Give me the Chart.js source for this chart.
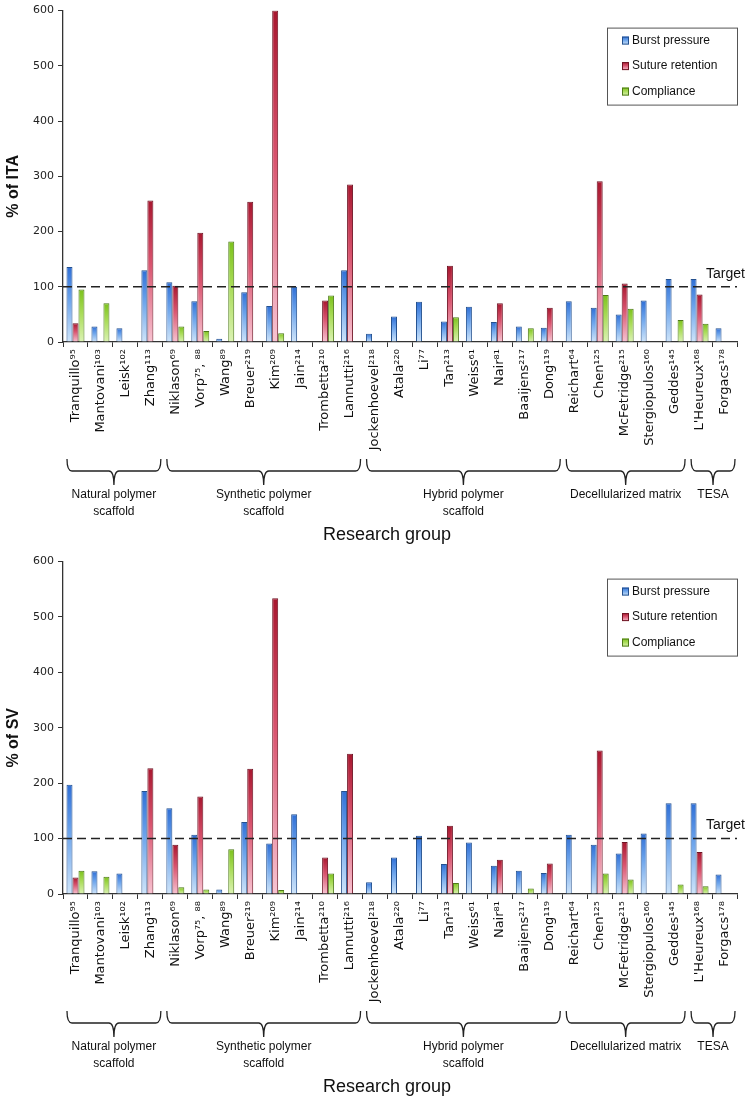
<!DOCTYPE html>
<html>
<head>
<meta charset="utf-8">
<script src="https://cdn.jsdelivr.net/npm/chart.js@4.4.1/dist/chart.umd.min.js"></script>
<style>
  body { margin: 0; background: #fff; }
  canvas { position: absolute; left: 0; }
</style>
</head>
<body>
<canvas id="ita" width="750" height="551" style="top:0"></canvas>
<canvas id="sv" width="750" height="546" style="top:551px"></canvas>
<script>
// grupos de pesquisa (com a referência em sobrescrito)
const grupos = ['Tranquillo⁹⁵', 'Mantovani¹⁰³', 'Leisk¹⁰²', 'Zhang¹¹³', 'Niklason⁶⁹', 'Vorp⁷⁵, ⁸⁸', 'Wang⁸⁹',
  'Breuer²¹⁹', 'Kim²⁰⁹', 'Jain²¹⁴', 'Trombetta²¹⁰', 'Lannutti²¹⁶', 'Jockenhoevel²¹⁸', 'Atala²²⁰', 'Li⁷⁷',
  'Tan²¹³', 'Weiss⁶¹', 'Nair⁸¹', 'Baaijens²¹⁷', 'Dong¹¹⁹', 'Reichart⁶⁴', 'Chen¹²⁵', 'McFetridge²¹⁵',
  'Stergiopulos¹⁶⁰', 'Geddes¹⁴⁵', "L'Heureux¹⁶⁸", 'Forgacs¹⁷⁸'];
const series = ['Burst pressure', 'Suture retention', 'Compliance'];
const categorias = [
  { nome: ['Natural polymer', 'scaffold'], de: 0, ate: 3 },
  { nome: ['Synthetic polymer', 'scaffold'], de: 4, ate: 11 },
  { nome: ['Hybrid polymer', 'scaffold'], de: 12, ate: 19 },
  { nome: ['Decellularized matrix'], de: 20, ate: 24 },
  { nome: ['TESA'], de: 25, ate: 26 },
];
const yTicks = [0, 100, 200, 300, 400, 500, 600];
const alvo = 100;

// % of ITA
const itaBurst = [136, 28, 25, 130, 108, 74, 6, 90, 65, 100, null, 130, 15, 46, 73, 37, 64, 36, 28, 26, 74, 62, 50, 75, 114, 114, 25];
const itaSuture = [34, null, null, 256, 102, 198, null, 254, 600, null, 75, 285, null, null, null, 138, null, 70, null, 62, null, 291, 106, null, null, 86, null];
const itaCompliance = [95, 70, null, null, 28, 20, 182, null, 16, null, 84, null, null, null, null, 45, null, null, 25, null, null, 85, 60, null, 40, 33, null];

// % of SV
const svBurst = [197, 41, 37, 186, 155, 107, 8, 130, 91, 144, null, 186, 21, 66, 105, 54, 93, 51, 42, 38, 107, 89, 73, 109, 164, 164, 35];
const svSuture = [30, null, null, 227, 89, 176, null, 226, 534, null, 66, 253, null, null, null, 123, null, 62, null, 55, null, 259, 94, null, null, 76, null];
const svCompliance = [42, 31, null, null, 12, 8, 81, null, 7, null, 37, null, null, null, null, 20, null, null, 10, null, null, 37, 26, null, 17, 14, null];

// [topo, meio, base, borda]
const cores = [
  ['#2f6fd6', '#6fa6ec', '#cfe5fa', '#24518f'],
  ['#a8172f', '#d9546f', '#f8c3d2', '#6e1424'],
  ['#7cc21c', '#a9dc58', '#dcf3b4', '#4d7a18'],
];

function gradiente(ctx2d, topo, base, c) {
  const g = ctx2d.createLinearGradient(0, topo, 0, base);
  g.addColorStop(0, c[0]);
  g.addColorStop(0.45, c[1]);
  g.addColorStop(1, c[2]);
  return g;
}

function fillBarra(i) {
  return (ctx) => {
    const chart = ctx.chart;
    if (ctx.type !== 'data' || ctx.raw == null || !chart.chartArea) return cores[i][1];
    const y = chart.scales.y;
    return gradiente(chart.ctx, y.getPixelForValue(ctx.raw), y.getPixelForValue(0), cores[i]);
  };
}

const decoracao = {
  id: 'decoracao',
  afterDraw(chart, args, opts) {
    const { ctx, chartArea: a, scales: { x, y } } = chart;
    ctx.save();

    // linha da meta
    const yAlvo = y.getPixelForValue(alvo);
    ctx.strokeStyle = '#222';
    ctx.lineWidth = 1.5;
    ctx.setLineDash([9, 5]);
    ctx.beginPath();
    ctx.moveTo(a.left, yAlvo);
    ctx.lineTo(a.right, yAlvo);
    ctx.stroke();
    ctx.setLineDash([]);
    ctx.fillStyle = '#111';
    ctx.font = '14px "Liberation Sans", sans-serif';
    ctx.textAlign = 'left';
    ctx.textBaseline = 'middle';
    ctx.fillText('Target', a.right - 31, yAlvo - 13);

    // legenda
    const lx = a.right - 130, ly = a.top + opts.legTop;
    ctx.strokeStyle = '#555';
    ctx.lineWidth = 1;
    ctx.strokeRect(lx + 0.5, ly + 0.5, 130, 77);
    ctx.font = '12px "Liberation Sans", sans-serif';
    series.forEach((s, i) => {
      const sy = ly + 13 + i * 25.5;
      ctx.fillStyle = gradiente(ctx, sy - 4, sy + 4, cores[i]);
      ctx.fillRect(lx + 15, sy - 4, 7, 8);
      ctx.strokeStyle = cores[i][3];
      ctx.strokeRect(lx + 15.5, sy - 3.5, 6, 7);
      ctx.fillStyle = '#111';
      ctx.fillText(s, lx + 25, sy);
    });

    // chaves das categorias
    const passo = (x.getPixelForValue(1) - x.getPixelForValue(0));
    const b = a.bottom;
    const y0 = b + 117, y1 = b + 129, y2 = b + 143, r = 5;
    ctx.strokeStyle = '#222';
    ctx.lineWidth = 1.3;
    ctx.fillStyle = '#111';
    ctx.textAlign = 'center';
    ctx.font = '12px "Liberation Sans Narrow", "Liberation Sans", sans-serif';
    categorias.forEach(c => {
      const x0 = x.getPixelForValue(c.de) - passo / 2 + 4;
      const x1 = x.getPixelForValue(c.ate) + passo / 2 - 2;
      const xm = (x0 + x1) / 2;
      ctx.beginPath();
      ctx.moveTo(x0, y0);
      ctx.quadraticCurveTo(x0, y1, x0 + r, y1);
      ctx.lineTo(xm - r, y1);
      ctx.quadraticCurveTo(xm, y1, xm, y2);
      ctx.quadraticCurveTo(xm, y1, xm + r, y1);
      ctx.lineTo(x1 - r, y1);
      ctx.quadraticCurveTo(x1, y1, x1, y0);
      ctx.stroke();
      c.nome.forEach((linha, k) => ctx.fillText(linha, xm, b + 153 + k * 17));
    });

    // títulos dos eixos
    ctx.font = '18px "Liberation Sans", sans-serif';
    ctx.fillText('Research group', (a.left + a.right) / 2 - 13, b + 193);
    ctx.save();
    ctx.translate(14, (a.top + a.bottom) / 2 + 10);
    ctx.rotate(-Math.PI / 2);
    ctx.font = 'bold 16px "Liberation Sans", sans-serif';
    ctx.fillText(opts.yTitulo, 0, 0);
    ctx.restore();

    ctx.restore();
  },
};

function montarGrafico(canvas, { burst, suture, compliance, yTitulo, topo, alturaX, legTop }) {
  const dados = [burst, suture, compliance];
  return new Chart(canvas.getContext('2d'), {
    type: 'bar',
    data: {
      labels: grupos,
      datasets: series.map((s, i) => ({
        label: s,
        data: dados[i],
        backgroundColor: fillBarra(i),
        borderColor: cores[i][3],
        borderWidth: 1,
        categoryPercentage: 0.72,
        barPercentage: 1,
      })),
    },
    options: {
      responsive: false,
      animation: false,
      layout: { padding: { top: topo, right: 13, left: 0, bottom: 0 } },
      plugins: {
        legend: { display: false },
        tooltip: { enabled: false },
        decoracao: { yTitulo, legTop },
      },
      scales: {
        x: {
          grid: { drawOnChartArea: false, tickLength: 5, color: '#333', offset: true },
          border: { color: '#333', width: 1.3 },
          ticks: {
            autoSkip: false, minRotation: 90, maxRotation: 90, padding: 2,
            color: '#111', font: { family: '"DejaVu Sans", sans-serif', size: 13 },
          },
          afterFit: (s) => { s.height = alturaX; },
        },
        y: {
          min: yTicks[0], max: yTicks[yTicks.length - 1],
          afterBuildTicks: (s) => { s.ticks = yTicks.map(v => ({ value: v })); },
          grid: { drawOnChartArea: false, tickLength: 5, color: '#333' },
          border: { color: '#333', width: 1.3 },
          ticks: { padding: 4, color: '#222', font: { family: '"DejaVu Sans", sans-serif', size: 11 } },
          afterFit: (s) => { s.width = 63; },
        },
      },
    },
    plugins: [decoracao],
  });
}

montarGrafico(document.getElementById('ita'), {
  burst: itaBurst, suture: itaSuture, compliance: itaCompliance,
  yTitulo: '% of ITA', topo: 4, alturaX: 209, legTop: 17,
});
montarGrafico(document.getElementById('sv'), {
  burst: svBurst, suture: svSuture, compliance: svCompliance,
  yTitulo: '% of SV', topo: 8, alturaX: 203, legTop: 17,
});
</script>
</body>
</html>
